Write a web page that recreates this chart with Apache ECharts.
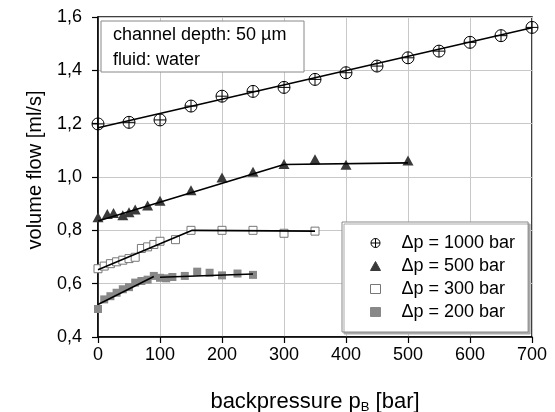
<!DOCTYPE html>
<html>
<head>
<meta charset="utf-8">
<script src="https://cdn.jsdelivr.net/npm/echarts@6/dist/echarts.min.js"></script>
<style>
  html, body { margin: 0; padding: 0; background: #fff; }
  #chart { width: 555px; height: 412px; }
</style>
</head>
<body>
<div id="chart"></div>
<script>
// measured points, backpressure [bar] / volume flow [ml/s]
const p1000 = [0, 50, 100, 150, 200, 250, 300, 350, 400, 450, 500, 550, 600, 650, 700];
const q1000 = [1.199, 1.205, 1.214, 1.266, 1.303, 1.321, 1.336, 1.366, 1.391, 1.416, 1.447, 1.472, 1.505, 1.530, 1.561];

const p500 = [0, 15, 25, 40, 50, 60, 80, 100, 150, 200, 250, 300, 350, 400, 500];
const q500 = [0.849, 0.861, 0.865, 0.857, 0.868, 0.878, 0.893, 0.911, 0.950, 0.998, 1.020, 1.049, 1.067, 1.046, 1.062];

const p300 = [0, 10, 20, 30, 40, 50, 60, 70, 80, 90, 100, 125, 150, 200, 250, 300, 350];
const q300 = [0.656, 0.666, 0.675, 0.682, 0.688, 0.694, 0.699, 0.732, 0.738, 0.747, 0.759, 0.765, 0.800, 0.800, 0.800, 0.789, 0.797];

const p200 = [0, 10, 20, 30, 40, 50, 60, 70, 80, 90, 100, 110, 120, 140, 160, 180, 200, 225, 250];
const q200 = [0.505, 0.541, 0.553, 0.566, 0.579, 0.587, 0.604, 0.610, 0.615, 0.629, 0.622, 0.620, 0.625, 0.629, 0.645, 0.641, 0.631, 0.638, 0.633];

// fitted lines
const fit1000X = [0, 700], fit1000Y = [1.185, 1.56];
const fit500X = [0, 300, 500], fit500Y = [0.835, 1.047, 1.053];
const fit300X = [0, 152, 350], fit300Y = [0.652, 0.80, 0.797];
const fit200aX = [0, 90], fit200aY = [0.522, 0.627];
const fit200bX = [100, 250], fit200bY = [0.624, 0.636];

const names = ['Δp = 1000 bar', 'Δp = 500 bar', 'Δp = 300 bar', 'Δp = 200 bar'];
const infoLines = ['channel depth: 50 µm', 'fluid: water'];

const FONT = 'Liberation Sans, Arial, sans-serif';
const zip = (xs, ys) => xs.map((x, i) => [x, ys[i]]);
const crossCircle = 'path://M0,-10A10,10 0 1,1 0,10A10,10 0 1,1 0,-10ZM-10,0L10,0M0,-10L0,10';

const fitLine = (xs, ys) => ({
  type: 'line',
  data: zip(xs, ys),
  symbol: 'none',
  silent: true,
  z: 5,
  lineStyle: { color: '#000', width: 1.6 }
});

const chart = echarts.init(document.getElementById('chart'));
chart.setOption({
  animation: false,
  textStyle: { fontFamily: FONT },
  grid: { left: 98, right: 23, top: 17, bottom: 75, show: true, borderColor: '#000', borderWidth: 1.5 },
  xAxis: {
    type: 'value', min: 0, max: 700, interval: 100,
    axisLine: { lineStyle: { color: '#000', width: 1.5 } },
    axisTick: { length: 6, lineStyle: { color: '#000', width: 1.2 } },
    splitLine: { lineStyle: { color: '#c8c8c8', width: 1 } },
    axisLabel: { color: '#000', fontSize: 18, margin: 9, fontFamily: FONT }
  },
  yAxis: {
    type: 'value', min: 0.4, max: 1.6, interval: 0.2,
    axisLine: { lineStyle: { color: '#000', width: 1.5 } },
    axisTick: { length: 6, lineStyle: { color: '#000', width: 1.2 } },
    splitLine: { lineStyle: { color: '#c8c8c8', width: 1 } },
    axisLabel: {
      color: '#000', fontSize: 18, margin: 16, fontFamily: FONT,
      formatter: v => v.toFixed(1).replace('.', ',')
    }
  },
  legend: {
    orient: 'vertical', left: 342, top: 222,
    padding: [12, 13, 11, 28],
    itemWidth: 10, itemHeight: 9, itemGap: 5,
    selectedMode: false,
    backgroundColor: '#fff', borderColor: '#888', borderWidth: 1,
    shadowColor: '#aaa', shadowOffsetX: 2, shadowOffsetY: 2, shadowBlur: 0,
    itemStyle: { borderWidth: 1 },
    textStyle: { color: '#000', fontSize: 18, fontFamily: FONT, padding: [0, 0, 0, 16] },
    data: names
  },
  graphic: [
    { type: 'rect', z: 50, shape: { x: 101, y: 21, width: 203, height: 51 },
      style: { fill: '#fff', stroke: '#888', lineWidth: 1 } },
    { type: 'text', z: 51, x: 113, y: 35,
      style: { text: infoLines[0], font: '18px ' + FONT, fill: '#000', verticalAlign: 'middle' } },
    { type: 'text', z: 51, x: 113, y: 60,
      style: { text: infoLines[1], font: '18px ' + FONT, fill: '#000', verticalAlign: 'middle' } },
    { type: 'text', z: 51, x: 35, y: 170, rotation: Math.PI / 2,
      style: { text: 'volume flow [ml/s]', font: '20px ' + FONT, fill: '#000', align: 'center', verticalAlign: 'middle' } },
    { type: 'text', z: 51, x: 315, y: 402,
      style: {
        text: '{m|backpressure p}{s|B}{m| [bar]}',
        align: 'center', verticalAlign: 'middle', fill: '#000',
        rich: {
          m: { fontSize: 22, lineHeight: 24, fontFamily: FONT, verticalAlign: 'middle' },
          s: { fontSize: 13, fontFamily: FONT, verticalAlign: 'bottom' }
        }
      } }
  ],
  series: [
    { name: names[0], type: 'scatter', data: zip(p1000, q1000), symbol: crossCircle, symbolSize: 12, z: 3,
      itemStyle: { color: 'rgba(0,0,0,0)', borderColor: '#000', borderWidth: 1, opacity: 1 } },
    { name: names[1], type: 'scatter', data: zip(p500, q500), symbol: 'triangle', symbolSize: [11, 10], z: 3,
      itemStyle: { color: '#3a3a3a', borderColor: '#3a3a3a', borderWidth: 0, opacity: 1 } },
    { name: names[2], type: 'scatter', data: zip(p300, q300), symbol: 'rect', symbolSize: 8, z: 3,
      itemStyle: { color: '#fff', borderColor: '#777', borderWidth: 1, opacity: 1 } },
    { name: names[3], type: 'scatter', data: zip(p200, q200), symbol: 'rect', symbolSize: 8, z: 3,
      itemStyle: { color: '#888', borderColor: '#888', borderWidth: 0, opacity: 1 } },
    fitLine(fit1000X, fit1000Y),
    fitLine(fit500X, fit500Y),
    fitLine(fit300X, fit300Y),
    fitLine(fit200aX, fit200aY),
    fitLine(fit200bX, fit200bY)
  ]
});
</script>
</body>
</html>
